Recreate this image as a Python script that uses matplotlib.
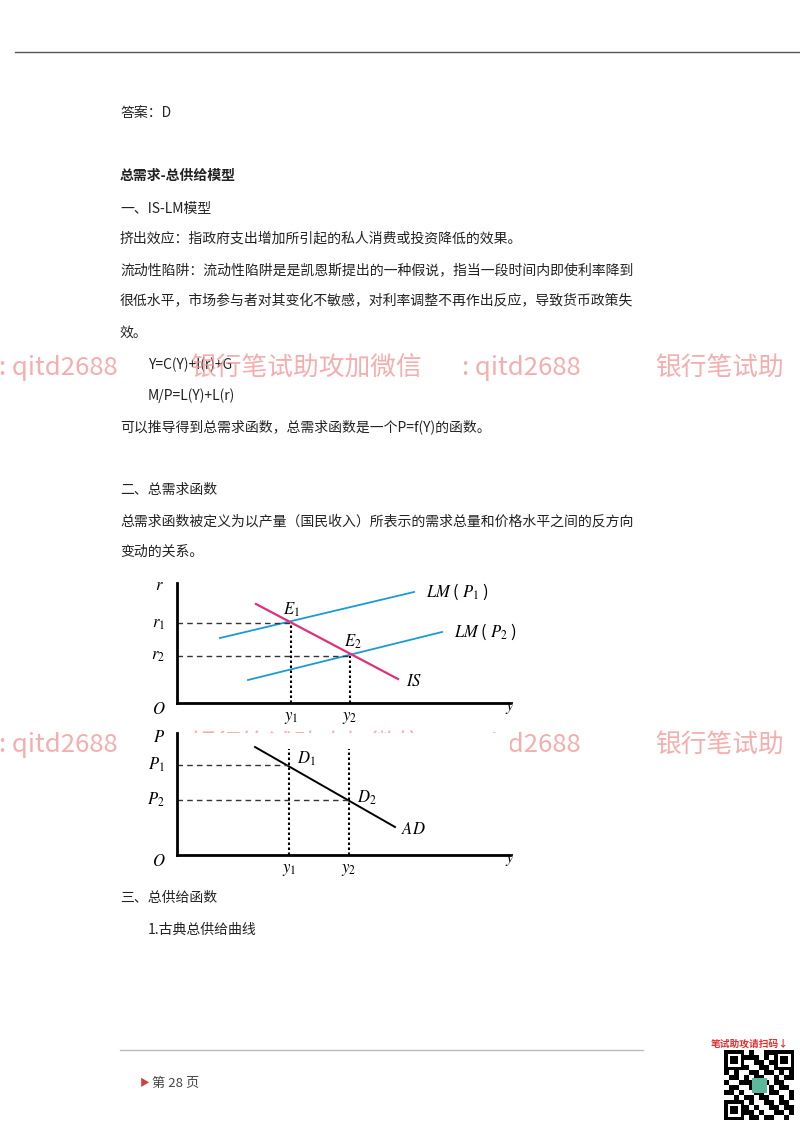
import matplotlib
matplotlib.use("Agg")
import matplotlib.pyplot as plt
import numpy as np

plt.rcParams['font.family'] = ['Noto Sans CJK SC', 'DejaVu Sans']
plt.rcParams['mathtext.fontset'] = 'stix'

# diagram data (abstract units)
lm1_x = [43, 237]; lm1_y = [65, 111]
lm2_x = [71, 265]; lm2_y = [23, 71]
is_x = [79, 221]; is_y = [99, 24]
r_levels = [80, 47]; y_levels = [114, 173]
ad_x = [78, 218]; ad_y = [108, 28]
p_levels = [90, 55]; yb_levels = [112, 172]

W, H = 800, 1132
fig = plt.figure(figsize=(8, 11.32), dpi=100)
bg = fig.add_axes([0, 0, 1, 1]); bg.set_xlim(0, W); bg.set_ylim(H, 0); bg.axis('off')

bg.plot([15, 800], [52, 52], color='#555555', lw=1)
bg.plot([120, 643], [1050, 1050], color='#bbbbbb', lw=1)
bg.text(140, 1083, '▶', color='#d04040', fontsize=7, va='center')
bg.text(152, 1083, '第 28 页', color='#444444', fontsize=9.5, va='center')

body = dict(fontsize=10, color='#222222', va='center')
lines = [
    (120, 113, '答案：D', {}),
    (120, 176, '总需求-总供给模型', {'fontweight': 'bold'}),
    (120, 209, '一、IS-LM模型', {}),
    (120, 239, '挤出效应：指政府支出增加所引起的私人消费或投资降低的效果。', {}),
    (120, 270, '流动性陷阱：流动性陷阱是是凯恩斯提出的一种假说，指当一段时间内即使利率降到', {}),
    (120, 301, '很低水平，市场参与者对其变化不敏感，对利率调整不再作出反应，导致货币政策失', {}),
    (120, 333, '效。', {}),
    (148, 365, 'Y=C(Y)+I(r)+G', {}),
    (148, 396, 'M/P=L(Y)+L(r)', {}),
    (120, 427, '可以推导得到总需求函数，总需求函数是一个P=f(Y)的函数。', {}),
    (120, 490, '二、总需求函数', {}),
    (120, 521, '总需求函数被定义为以产量（国民收入）所表示的需求总量和价格水平之间的反方向', {}),
    (120, 552, '变动的关系。', {}),
    (120, 898, '三、总供给函数', {}),
    (148, 930, '1.古典总供给曲线', {}),
]
for x, y, s, kw in lines:
    bg.text(x, y, s, **{**body, **kw})

# QR placeholder
bg.text(750, 1044, '笔试助攻请扫码↓', color='#e03030', fontsize=7, ha='center', va='center', fontweight='bold')
pattern = np.array([[1,0,1,1,0,1,0,0,1,1,0,1,0,1],
                    [0,1,0,0,1,1,1,0,1,0,1,0,1,0],
                    [1,1,0,1,0,0,1,1,0,1,1,0,0,1],
                    [0,0,1,1,1,0,0,1,1,0,0,1,1,0],
                    [1,0,1,0,0,1,1,0,1,1,0,1,0,1],
                    [0,1,1,0,1,0,1,1,0,0,1,0,1,1],
                    [1,0,0,1,1,1,0,0,1,0,1,1,0,0],
                    [0,1,1,0,0,1,1,0,0,1,0,1,1,0],
                    [1,1,0,1,0,0,1,1,0,1,1,0,0,1],
                    [0,0,1,0,1,1,0,1,1,0,0,1,0,1],
                    [1,0,1,1,0,1,0,0,1,1,0,1,1,0],
                    [0,1,0,1,1,0,1,0,0,1,1,0,1,1],
                    [1,1,0,0,1,1,0,1,0,0,1,1,0,1],
                    [0,1,1,0,0,1,1,0,1,1,0,0,1,0]])
qr = fig.add_axes([724/W, 1 - 1120/H, 70/W, 70/H])
qr.imshow(1 - pattern, cmap='gray', interpolation='nearest')
for (cx, cy) in [(0, 0), (10, 0), (0, 10)]:
    qr.add_patch(plt.Rectangle((cx - 0.5, cy - 0.5), 4, 4, fc='black'))
    qr.add_patch(plt.Rectangle((cx + 0.2, cy + 0.2), 2.6, 2.6, fc='white'))
    qr.add_patch(plt.Rectangle((cx + 0.7, cy + 0.7), 1.6, 1.6, fc='black'))
qr.add_patch(plt.Rectangle((5, 5), 3, 3, fc='#5cb89a'))
qr.axis('off')

dot_kw = dict(color='black', lw=1.5, ls=(0, (1.2, 1.2)))

# top diagram
a1 = fig.add_axes([177/W, 1 - 703/H, 333/W, 120/H])
a1.set_xlim(0, 333); a1.set_ylim(0, 120)
for s in ['top', 'right']: a1.spines[s].set_visible(False)
a1.spines['left'].set_linewidth(2); a1.spines['bottom'].set_linewidth(2)
a1.set_xticks([]); a1.set_yticks([])
a1.plot(lm1_x, lm1_y, color='#1a9ad6', lw=1.3)
a1.plot(lm2_x, lm2_y, color='#1a9ad6', lw=1.3)
a1.plot(is_x, is_y, color='#e0307a', lw=1.6)
for r, yv in zip(r_levels, y_levels):
    a1.plot([0, yv], [r, r], color='#333333', lw=1, ls=(0, (4, 3)))
    a1.plot([yv, yv], [0, r], **dot_kw)
a1.text(lm1_x[1] + 12, lm1_y[1], r'$LM$ ( $P_1$ )', fontsize=12, va='center')
a1.text(lm2_x[1] + 12, lm2_y[1], r'$LM$ ( $P_2$ )', fontsize=12, va='center')
a1.text(is_x[1] + 8, is_y[1] - 2, r'$IS$', fontsize=12, va='center')
a1.text(y_levels[0] - 8, r_levels[0] + 13, r'$E_1$', fontsize=12, va='center')
a1.text(y_levels[1] - 6, r_levels[1] + 14, r'$E_2$', fontsize=12, va='center')
for r, lab in zip(r_levels, ['$r_1$', '$r_2$']):
    a1.text(-12, r, lab, fontsize=12, ha='right', va='center')
for yv, lab in zip(y_levels, ['$y_1$', '$y_2$']):
    a1.text(yv, -14, lab, fontsize=12, ha='center', va='center')
a1.text(-18, -6, '$O$', fontsize=12, ha='center', va='center')
a1.text(-18, 117, '$r$', fontsize=12, ha='center', va='center')
a1.text(333, -4, '$y$', fontsize=12, ha='center', va='center')

# bottom diagram
a2 = fig.add_axes([177/W, 1 - 855/H, 333/W, 122/H])
a2.set_xlim(0, 333); a2.set_ylim(0, 122)
for s in ['top', 'right']: a2.spines[s].set_visible(False)
a2.spines['left'].set_linewidth(2); a2.spines['bottom'].set_linewidth(2)
a2.set_xticks([]); a2.set_yticks([])
a2.plot(ad_x, ad_y, color='black', lw=1.4)
for p, yv in zip(p_levels, yb_levels):
    a2.plot([0, yv], [p, p], color='#333333', lw=1, ls=(0, (4, 3)))
    a2.plot([yv, yv], [0, 106], **dot_kw)
a2.text(ad_x[1] + 6, ad_y[1] - 2, r'$AD$', fontsize=12, va='center')
a2.text(yb_levels[0] + 8, p_levels[0] + 6, r'$D_1$', fontsize=12, va='center')
a2.text(yb_levels[1] + 8, p_levels[1] + 2, r'$D_2$', fontsize=12, va='center')
for p, lab in zip(p_levels, ['$P_1$', '$P_2$']):
    a2.text(-12, p, lab, fontsize=12, ha='right', va='center')
for yv, lab in zip(yb_levels, ['$y_1$', '$y_2$']):
    a2.text(yv, -14, lab, fontsize=12, ha='center', va='center')
a2.text(-18, -6, '$O$', fontsize=12, ha='center', va='center')
a2.text(-18, 118, '$P$', fontsize=12, ha='center', va='center')
a2.text(333, -4, '$y$', fontsize=12, ha='center', va='center')

# watermarks
wm = dict(fontsize=18.5, color='#f08c8c', alpha=0.7, va='center', zorder=10)
for y in [368, 745]:
    bg.text(-1, y, ': qitd2688', **wm)
    bg.text(190, y, '银行笔试助攻加微信', **wm)
    bg.text(462, y, ': qitd2688', **wm)
    bg.text(655, y, '银行笔试助', **wm)

fig.savefig('out.png', dpi=100)
